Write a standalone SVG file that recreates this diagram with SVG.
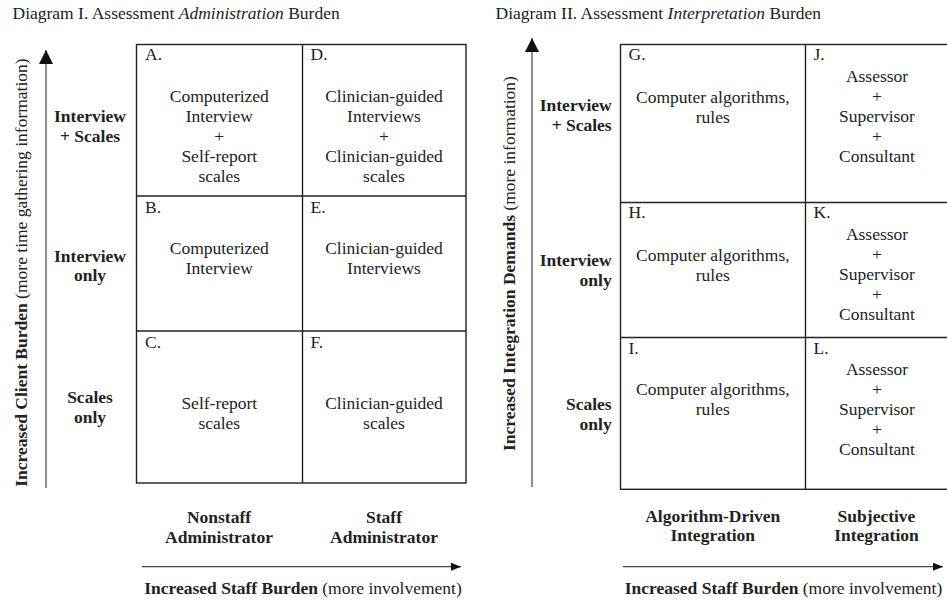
<svg xmlns="http://www.w3.org/2000/svg" width="947" height="603" viewBox="0 0 947 603">
<defs>
<style>
text{font-family:"Liberation Serif","Times New Roman",serif;font-size:17.5px;fill:#222}
.b{font-weight:bold}
.m{text-anchor:middle}
.e{text-anchor:end}
.grid{fill:none;stroke:#222;stroke-width:1.4}
.ax{stroke:#444;stroke-width:1.2;fill:none}
</style>
<marker id="big" markerUnits="userSpaceOnUse" markerWidth="14" markerHeight="14" refX="14" refY="7" orient="auto">
<path d="M0,0 L14,7 L0,14 z" fill="#111"/>
</marker>
<marker id="small" markerUnits="userSpaceOnUse" markerWidth="10" markerHeight="8" refX="10" refY="4" orient="auto">
<path d="M0,0 L10,4 L0,8 z" fill="#111"/>
</marker>
</defs>
<rect width="947" height="603" fill="#fff"/>

<g id="titles">
<text x="12.5" y="19">Diagram I. Assessment <tspan font-style="italic">Administration</tspan> Burden</text>
<text x="495.5" y="19">Diagram II. Assessment <tspan font-style="italic">Interpretation</tspan> Burden</text>
</g>

<g id="connectors">
<line class="ax" x1="46" y1="488" x2="46" y2="50" marker-end="url(#big)"/>
<line class="ax" x1="142" y1="566.7" x2="461" y2="566.7" marker-end="url(#small)"/>
<line class="ax" x1="532" y1="487" x2="532" y2="38" marker-end="url(#big)"/>
<line class="ax" x1="623" y1="566.7" x2="943" y2="566.7" marker-end="url(#small)"/>
</g>

<g id="axis-labels">
<text class="m" transform="translate(27,272.5) rotate(-90)"><tspan class="b">Increased Client Burden</tspan> (more time gathering information)</text>
<text x="303" y="594" class="m"><tspan class="b">Increased Staff Burden</tspan> (more involvement)</text>
<text class="m" transform="translate(515,263.5) rotate(-90)"><tspan class="b">Increased Integration Demands</tspan> (more information)</text>
<text x="783.5" y="594" class="m"><tspan class="b">Increased Staff Burden</tspan> (more involvement)</text>
</g>

<g id="grid-I">
<rect class="grid" x="136.5" y="44.5" width="329.5" height="438.5"/>
<line class="grid" x1="302.5" y1="44.5" x2="302.5" y2="483"/>
<line class="grid" x1="136.5" y1="196" x2="466" y2="196"/>
<line class="grid" x1="136.5" y1="331" x2="466" y2="331"/>
</g>

<g id="row-I-1"><text class="b m" x="90" y="121.7">Interview</text><text class="b m" x="90" y="141.7">+ Scales</text></g>
<g id="row-I-2"><text class="b m" x="90" y="261.5">Interview</text><text class="b m" x="90" y="281">only</text></g>
<g id="row-I-3"><text class="b m" x="90" y="403">Scales</text><text class="b m" x="90" y="423">only</text></g>
<g id="col-I-1"><text class="b m" x="219" y="523">Nonstaff</text><text class="b m" x="219" y="543">Administrator</text></g>
<g id="col-I-2"><text class="b m" x="384" y="523">Staff</text><text class="b m" x="384" y="543">Administrator</text></g>

<g id="cell-A"><text x="145" y="60">A.</text>
<text class="m" x="219.3" y="101.7">Computerized</text><text class="m" x="219.3" y="121.7">Interview</text><text class="m" x="219.3" y="141.7">+</text><text class="m" x="219.3" y="161.7">Self-report</text><text class="m" x="219.3" y="181.7">scales</text></g>
<g id="cell-B"><text x="145" y="213">B.</text>
<text class="m" x="219.3" y="254">Computerized</text><text class="m" x="219.3" y="274">Interview</text></g>
<g id="cell-C"><text x="145" y="348">C.</text>
<text class="m" x="219.3" y="409">Self-report</text><text class="m" x="219.3" y="429">scales</text></g>
<g id="cell-D"><text x="310.5" y="60">D.</text>
<text class="m" x="384" y="101.7">Clinician-guided</text><text class="m" x="384" y="121.7">Interviews</text><text class="m" x="384" y="141.7">+</text><text class="m" x="384" y="161.7">Clinician-guided</text><text class="m" x="384" y="181.7">scales</text></g>
<g id="cell-E"><text x="310.5" y="213">E.</text>
<text class="m" x="384" y="254">Clinician-guided</text><text class="m" x="384" y="274">Interviews</text></g>
<g id="cell-F"><text x="310.5" y="348">F.</text>
<text class="m" x="384" y="409">Clinician-guided</text><text class="m" x="384" y="429">scales</text></g>

<g id="grid-II">
<rect class="grid" x="620.5" y="44.5" width="328" height="444.8"/>
<line class="grid" x1="805.5" y1="44.5" x2="805.5" y2="489.3"/>
<line class="grid" x1="620.5" y1="202.5" x2="948.5" y2="202.5"/>
<line class="grid" x1="620.5" y1="337.5" x2="948.5" y2="337.5"/>
</g>

<g id="row-II-1"><text class="b e" x="611.7" y="111">Interview</text><text class="b e" x="611.7" y="131">+ Scales</text></g>
<g id="row-II-2"><text class="b e" x="611.7" y="266">Interview</text><text class="b e" x="611.7" y="286">only</text></g>
<g id="row-II-3"><text class="b e" x="611.7" y="410">Scales</text><text class="b e" x="611.7" y="430">only</text></g>
<g id="col-II-1"><text class="b m" x="712.8" y="521.5">Algorithm-Driven</text><text class="b m" x="712.8" y="541">Integration</text></g>
<g id="col-II-2"><text class="b m" x="876.5" y="521.5">Subjective</text><text class="b m" x="876.5" y="541">Integration</text></g>

<g id="cell-G"><text x="628.5" y="60">G.</text>
<text class="m" x="712.8" y="103">Computer algorithms,</text><text class="m" x="712.8" y="123">rules</text></g>
<g id="cell-H"><text x="628.5" y="218">H.</text>
<text class="m" x="712.8" y="260.5">Computer algorithms,</text><text class="m" x="712.8" y="280.5">rules</text></g>
<g id="cell-I"><text x="628.5" y="353.5">I.</text>
<text class="m" x="712.8" y="395">Computer algorithms,</text><text class="m" x="712.8" y="415">rules</text></g>
<g id="cell-J"><text x="813.5" y="60">J.</text>
<text class="m" x="877" y="82">Assessor</text><text class="m" x="877" y="102">+</text><text class="m" x="877" y="122">Supervisor</text><text class="m" x="877" y="142">+</text><text class="m" x="877" y="162">Consultant</text></g>
<g id="cell-K"><text x="813.5" y="218">K.</text>
<text class="m" x="877" y="240">Assessor</text><text class="m" x="877" y="260">+</text><text class="m" x="877" y="280">Supervisor</text><text class="m" x="877" y="300">+</text><text class="m" x="877" y="320">Consultant</text></g>
<g id="cell-L"><text x="813.5" y="353.5">L.</text>
<text class="m" x="877" y="375">Assessor</text><text class="m" x="877" y="395">+</text><text class="m" x="877" y="415">Supervisor</text><text class="m" x="877" y="435">+</text><text class="m" x="877" y="455">Consultant</text></g>
</svg>
